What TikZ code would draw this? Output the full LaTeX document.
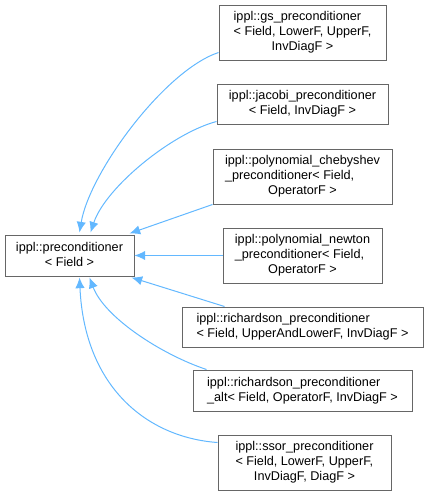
\documentclass[tikz,border=0pt]{standalone}
\usepackage{fontspec}
\setmainfont{Liberation Sans}
\usepackage{xcolor}
\usepackage{tikz}
\usetikzlibrary{calc}
\usetikzlibrary{arrows.meta}

\definecolor{steelblue}{RGB}{99,184,255}
\definecolor{boxgray}{RGB}{102,102,102}

% class label: first lines flush left, last line centred
\newcommand{\clsname}[2]{\begin{tabular}{@{}l@{}}#1\\\multicolumn{1}{@{}c@{}}{#2}\end{tabular}}

\begin{document}
\begin{tikzpicture}[x=0.75pt,y=-0.75pt,
		font=\fontsize{9.5}{11.25}\selectfont,
		cls/.style={draw=boxgray, line width=0.75pt, fill=white, inner sep=0pt},
		inh/.style={draw=steelblue, line width=0.75pt, {Latex[length=8pt,width=7pt]}-}]
		% ---- Geometry (pixel units) ----
		\def\px{0.75pt}   % one pixel
		
		\useasboundingbox (0,0) rectangle (428,496);
		
		% ---- Base class ----
		\node[cls, minimum width=129*\px, minimum height=41*\px] (base) at (69.5,255.5)
			{\clsname{ippl::preconditioner}{< Field >}};
		
		% ---- Derived classes (one column, top to bottom) ----
		\node[cls, minimum width=167*\px, minimum height=55*\px] (gs) at (302.5,32.5)
			{\clsname{ippl::gs\_preconditioner\\< Field, LowerF, UpperF,}{InvDiagF >}};
		\node[cls, minimum width=171*\px, minimum height=40*\px] (jacobi) at (302.5,104)
			{\clsname{ippl::jacobi\_preconditioner}{< Field, InvDiagF >}};
		\node[cls, minimum width=179*\px, minimum height=55*\px] (cheby) at (302.5,176.5)
			{\clsname{ippl::polynomial\_chebyshev\\\_preconditioner< Field,}{OperatorF >}};
		\node[cls, minimum width=159*\px, minimum height=55*\px] (newton) at (302.5,255.5)
			{\clsname{ippl::polynomial\_newton\\\_preconditioner< Field,}{OperatorF >}};
		\node[cls, minimum width=241*\px, minimum height=40*\px] (rich) at (302.5,327)
			{\clsname{ippl::richardson\_preconditioner}{< Field, UpperAndLowerF, InvDiagF >}};
		\node[cls, minimum width=219*\px, minimum height=41*\px] (richalt) at (302.5,390.5)
			{\clsname{ippl::richardson\_preconditioner}{\_alt< Field, OperatorF, InvDiagF >}};
		\node[cls, minimum width=173*\px, minimum height=55*\px] (ssor) at (304.5,462.5)
			{\clsname{ippl::ssor\_preconditioner\\< Field, LowerF, UpperF,}{InvDiagF, DiagF >}};
		
		% ---- Inheritance edges (arrow at the base class) ----
		\draw[inh] ($(base.north west)+(75,-2)$) .. controls +(10,-60) and +(-54,18) .. ($(gs.south west)+(0,-8)$);
		\draw[inh] ($(base.north west)+(86,-2)$) .. controls +(15,-45) and +(-45,12) .. ($(jacobi.south west)+(0,-3)$);
		\draw[inh] ($(base.north east)+(-5,-1)$) -- (cheby.south west);
		\draw[inh] (base.east) -- (newton.west);
		\draw[inh] ($(base.south east)+(-3,1)$) -- ($(rich.north west)+(43,0)$);
		\draw[inh] ($(base.south west)+(85,1)$) .. controls +(15,40) and +(-45,-15) .. ($(richalt.north west)+(14,0)$);
		\draw[inh] ($(base.south west)+(75,1)$) .. controls +(5,110) and +(-70,-5) .. ($(ssor.north west)+(0,8)$);
		
	\end{tikzpicture}
\end{document}
